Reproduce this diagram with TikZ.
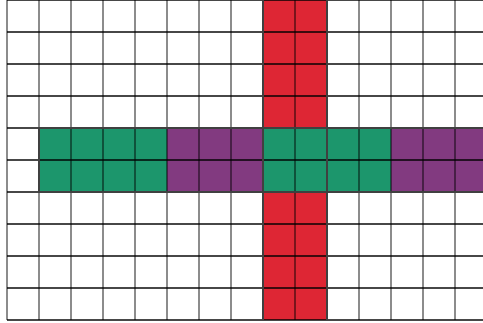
\documentclass[tikz,border=0pt]{standalone}
\usepackage{tikz}
\usepackage{xcolor}

\definecolor{crossred}{RGB}{222,38,52}
\definecolor{bandgreen}{RGB}{28,150,108}
\definecolor{bandpurple}{RGB}{130,58,128}

\begin{document}
\begin{tikzpicture}[
    x=0.8cm, y=0.8cm,
    redcell/.style={fill=crossred},
    greencell/.style={fill=bandgreen},
    purplecell/.style={fill=bandpurple},
    vline/.style={draw=black, draw opacity=0.45, line width=1.1pt},
    hline/.style={draw=black, draw opacity=0.72, line width=1.1pt},
    bandedge/.style={draw=black!75, line width=1.2pt},
]
    \useasboundingbox (-0.219,-0.094) rectangle (14.875,10);
    \clip (-0.219,-0.094) rectangle (14.875,10);
    \fill[white] (-0.219,-0.094) rectangle (14.875,10);

    % red column above and below the band
    \fill[redcell] (8,6) rectangle (10,10.2);
    \fill[redcell] (8,0) rectangle (10,4);

    % band
    \fill[greencell] (1,4) rectangle (5,6);
    \fill[purplecell] (5,4) rectangle (8,6);
    \fill[greencell] (8,4) rectangle (12,6);
    \fill[purplecell] (12,4) rectangle (15,6);

    % grid
    \foreach \i in {0,...,14}
        \draw[vline] (\i,0) -- (\i,10.2);
    \foreach \j in {0,...,10}
        \draw[hline] (0,\j) -- (15,\j);

    % edges of the coloured parts
    \draw[bandedge] (1,4) rectangle (16,6);
    \draw[bandedge] (8,0) -- (8,10.2);
    \draw[bandedge] (10,0) -- (10,10.2);
\end{tikzpicture}
\end{document}
